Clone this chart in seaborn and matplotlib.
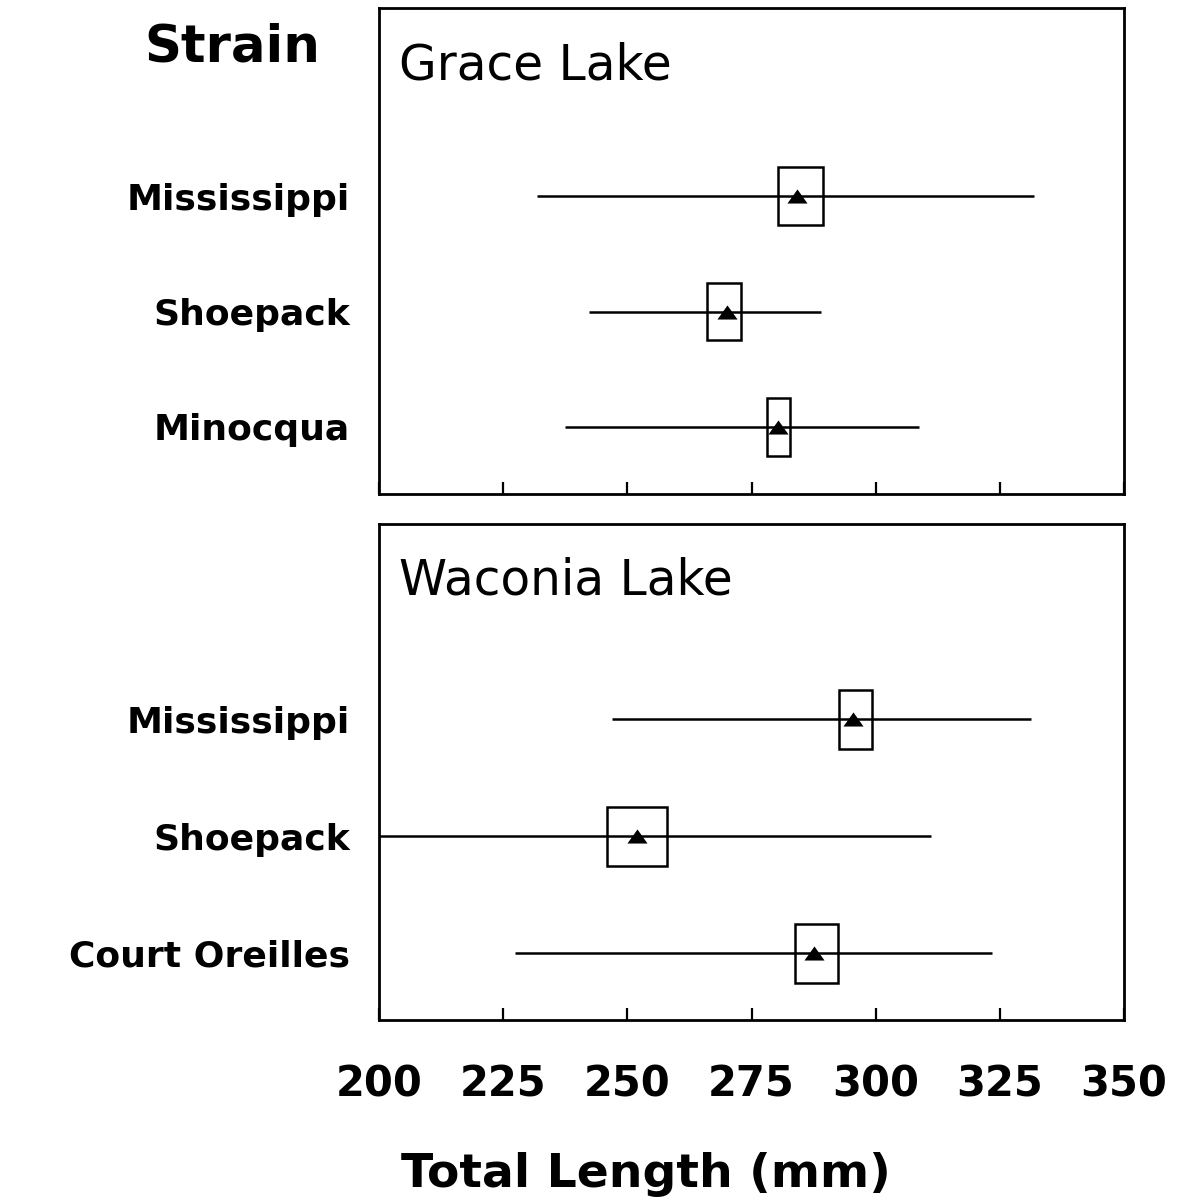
import numpy as np
import pandas as pd
import matplotlib
matplotlib.use('Agg')
import matplotlib.pyplot as plt
import seaborn as sns
from matplotlib.patches import Rectangle

# ------------------------------------------------------------
# data (total length in mm)
# ------------------------------------------------------------
grace_strains = ['Mississippi', 'Shoepack', 'Minocqua']
grace_mean = [284.2, 270.0, 280.3]
grace_box_lo = [280.3, 266.1, 278.2]
grace_box_hi = [289.3, 272.9, 282.8]
grace_range_lo = [231.9, 242.3, 237.4]
grace_range_hi = [331.9, 289.0, 308.8]

waconia_strains = ['Mississippi', 'Shoepack', 'Court Oreilles']
waconia_mean = [295.4, 252.0, 287.6]
waconia_box_lo = [292.6, 245.9, 283.8]
waconia_box_hi = [299.3, 258.0, 292.5]
waconia_range_lo = [247.0, 198.0, 227.4]
waconia_range_hi = [331.3, 311.1, 323.4]

x_ticks = [200, 225, 250, 275, 300, 325, 350]

# ------------------------------------------------------------
sns.set_theme(style='white')
plt.rcParams['font.family'] = ['DejaVu Sans']
for key in ['text.color', 'axes.labelcolor', 'xtick.color', 'ytick.color', 'axes.edgecolor']:
    plt.rcParams[key] = 'black'

fig = plt.figure(figsize=(11.89, 12.03), dpi=100)
ax_top = fig.add_axes([0.3188, 0.5894, 0.6266, 0.4040])
ax_bot = fig.add_axes([0.3188, 0.1521, 0.6266, 0.4123])

TRI = [(-1, -0.7), (1, -0.7), (0, 0.7)]


def draw_panel(ax, title, strains, mean, box_lo, box_hi, rng_lo, rng_hi, ylim, title_y):
    df = pd.DataFrame({'strain': strains, 'mean': mean, 'box_lo': box_lo,
                       'box_hi': box_hi, 'rng_lo': rng_lo, 'rng_hi': rng_hi})
    df['pos'] = np.arange(len(df))

    ax.hlines(df['pos'], df['rng_lo'], df['rng_hi'], color='black', lw=1.8, zorder=1)
    for _, r in df.iterrows():
        ax.add_patch(Rectangle((r['box_lo'], r['pos'] - 0.25), r['box_hi'] - r['box_lo'], 0.5,
                               fill=False, edgecolor='black', lw=1.8, zorder=2))
    sns.scatterplot(data=df, x='mean', y='pos', marker=TRI, s=210, color='black',
                    linewidth=0, ax=ax, zorder=3, legend=False)

    ax.set_xlim(200, 350)
    ax.set_ylim(*ylim)
    ax.set_xlabel('')
    ax.set_ylabel('')
    ax.set_yticks(df['pos'])
    ax.set_yticklabels(df['strain'], fontsize=26, fontweight='bold')
    ax.tick_params(axis='y', length=0, pad=21)
    ax.set_xticks(x_ticks)
    ax.tick_params(axis='x', direction='in', length=8.6, width=1.6, bottom=True, top=False)
    for sp in ax.spines.values():
        sp.set_visible(True)
        sp.set_color('black')
        sp.set_linewidth(2.0)
    ax.text(0.027, title_y, title, transform=ax.transAxes, fontsize=35,
            ha='left', va='baseline')


draw_panel(ax_top, 'Grace Lake', grace_strains, grace_mean, grace_box_lo, grace_box_hi,
           grace_range_lo, grace_range_hi, (2.58, -1.63), 0.852)
draw_panel(ax_bot, 'Waconia Lake', waconia_strains, waconia_mean, waconia_box_lo, waconia_box_hi,
           waconia_range_lo, waconia_range_hi, (2.57, -1.67), 0.857)

ax_top.tick_params(axis='x', labelbottom=False)
ax_bot.set_xticklabels([str(t) for t in x_ticks], fontsize=30, fontweight='bold')
ax_bot.tick_params(axis='x', pad=31)

fig.text(320 / 1189, 1 - 62 / 1203, 'Strain', fontsize=37, fontweight='bold',
         ha='right', va='baseline')
fig.text(646 / 1189, 1 - 1187 / 1203, 'Total Length (mm)', fontsize=34, fontweight='bold',
         ha='center', va='baseline')

fig.savefig('out.png', dpi=100)
